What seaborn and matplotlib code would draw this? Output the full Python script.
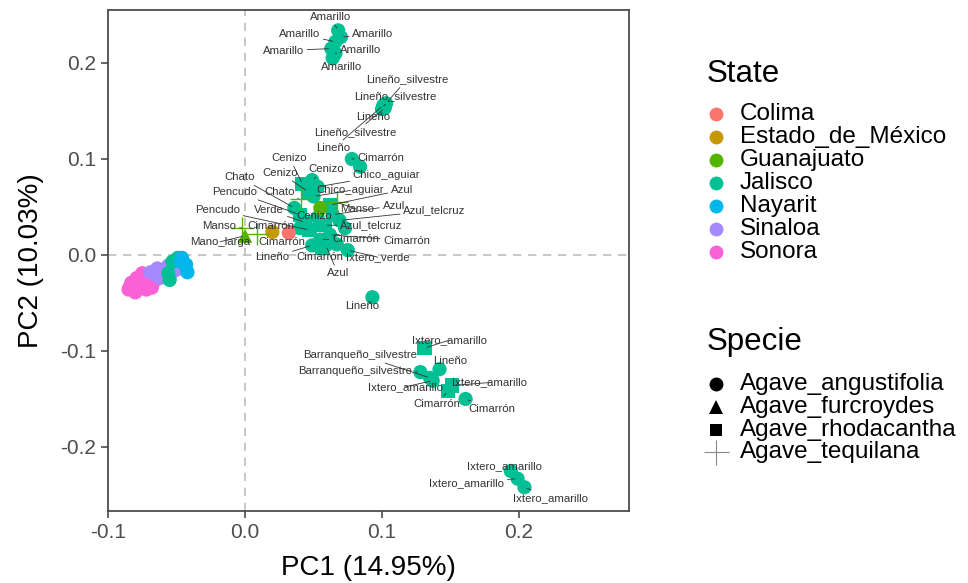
import matplotlib
matplotlib.use("Agg")
import matplotlib.pyplot as plt
from matplotlib.lines import Line2D
import seaborn as sns
import pandas as pd
import numpy as np

# ---------------- data ----------------
states = ["Colima", "Estado_de_México", "Guanajuato", "Jalisco", "Nayarit", "Sinaloa", "Sonora"]
state_colors = ["#F8766D", "#C49A00", "#53B400", "#00C094", "#00B6EB", "#A58AFF", "#FB61D7"]
species = ["Agave_angustifolia", "Agave_furcroydes", "Agave_rhodacantha", "Agave_tequilana"]
xticks = [-0.1, 0.0, 0.1, 0.2]
yticks = [-0.2, -0.1, 0.0, 0.1, 0.2]

pc1 = [
    # Sonora
    -0.085, -0.084, -0.083, -0.080, -0.079, -0.077, -0.075, -0.073, -0.072, -0.069, -0.068, -0.066, -0.064,
    # Sinaloa
    -0.069, -0.064, -0.062, -0.058, -0.056, -0.055, -0.051, -0.047, -0.066,
    # Jalisco (left cluster)
    -0.053, -0.049, -0.055, -0.056, -0.044,
    # Nayarit
    -0.046, -0.043, -0.042, -0.047,
    # Amarillo
    0.068, 0.070, 0.066, 0.063, 0.066, 0.064,
    # Lineño / Lineño_silvestre
    0.103, 0.101, 0.100, 0.102, 0.101,
    # Cimarrón
    0.078, 0.084,
    # central cluster
    0.042, 0.046, 0.049, 0.053, 0.050, 0.062, 0.040, 0.044, 0.036, 0.047, 0.053, 0.058, 0.064, 0.069,
    0.055, 0.062, 0.049, 0.056, 0.075, 0.059, 0.040, 0.067, 0.073,
    # Guanajuato
    0.055, 0.041, 0.067, -0.002, 0.009, 0.000,
    # Estado de México, Colima
    0.020, 0.032,
    # Lineño lower
    0.093,
    # lower cluster
    0.131, 0.128, 0.135, 0.142, 0.137, 0.148, 0.151, 0.161,
    # bottom
    0.194, 0.199, 0.204,
]
pc2 = [
    -0.036, -0.033, -0.029, -0.039, -0.024, -0.033, -0.019, -0.028, -0.036, -0.022, -0.034, -0.027, -0.021,
    -0.018, -0.014, -0.024, -0.016, -0.011, -0.022, -0.016, -0.014, -0.020,
    -0.007, -0.003, -0.026, -0.019, -0.010,
    -0.003, -0.010, -0.018, -0.007,
    0.234, 0.227, 0.222, 0.215, 0.210, 0.205,
    0.158, 0.155, 0.152, 0.153, 0.156,
    0.100, 0.092,
    0.074, 0.066, 0.078, 0.071, 0.061, 0.052, 0.042, 0.034, 0.049, 0.026, 0.039, 0.031, 0.042, 0.036,
    0.016, 0.021, 0.010, 0.007, 0.005, 0.010, 0.028, 0.011, 0.028,
    0.049, 0.058, 0.055, 0.028, 0.022, 0.020,
    0.024, 0.023,
    -0.044,
    -0.097, -0.122, -0.128, -0.119, -0.131, -0.142, -0.136, -0.150,
    -0.225, -0.233, -0.242,
]
state = (["Sonora"] * 13 + ["Sinaloa"] * 9 + ["Jalisco"] * 5 + ["Nayarit"] * 4
         + ["Jalisco"] * 6 + ["Jalisco"] * 5 + ["Jalisco"] * 2 + ["Jalisco"] * 23
         + ["Guanajuato"] * 6 + ["Estado_de_México", "Colima"] + ["Jalisco"]
         + ["Jalisco"] * 8 + ["Jalisco"] * 3)
A, F, R, T = species
specie = ([A] * 13 + [A] * 9 + [A] * 5 + [A] * 4
          + [A] * 6 + [A] * 5 + [A] * 2
          + [R, R, A, A, A, R, R, R, A, R, A, R, A, A, A, A, A, R, A, A, A, A, A]
          + [A, T, T, T, T, F]
          + [A, A] + [A]
          + [R, A, A, A, A, R, R, A]
          + [A, A, A])
label = ([""] * 31
         + ["Amarillo"] * 6
         + ["Lineño_silvestre", "Lineño_silvestre", "Lineño", "Lineño_silvestre", "Lineño"]
         + ["Cimarrón", ""]
         + ["Cenizo", "Cenizo", "Cenizo", "Chico_aguiar", "Chico_aguiar", "Azul", "Pencudo", "Verde", "Chato",
            "Pencudo", "Cenizo", "Azul_telcruz", "Azul", "Azul_telcruz", "Cimarrón", "Cimarrón", "Lineño",
            "Cimarrón", "Ixtero_verde", "Azul", "", "", ""]
         + ["", "Chato", "Manso", "Manso", "", "Mano_larga"]
         + ["Cimarrón", "Cimarrón"]
         + ["Lineño"]
         + ["Ixtero_amarillo", "Barranqueño_silvestre", "Barranqueño_silvestre", "Lineño",
            "Ixtero_amarillo", "Cimarrón", "Ixtero_amarillo", "Cimarrón"]
         + ["Ixtero_amarillo", "Ixtero_amarillo", "Ixtero_amarillo"])

# label offsets (pixels) – layout of the repelled text, not data
label_dx = ([0] * 31
            + [-8, 32, -36, -48, 25, 9]
            + [21, 12, -9, -29, -50]
            + [29, 0]
            + [-13, -28, 14, 69, 37, 72, -65, -36, -55, -92, -3, 47, 61, 95, 35, 77, -40, -2, 30, 12, 0, 0, 0]
            + [0, -22, 20, -23, 0, -25]
            + [-2, -7]
            + [-10]
            + [25, -65, -70, 11, -27, -11, 38, 26]
            + [-6, -51, 26])
label_dy = ([0] * 31
            + [13, 3, 8, -2, 3, -9]
            + [24, 10, -8, -24, -43]
            + [1, 0]
            + [26, 19, 11, 12, 6, 15, 23, 12, 31, 20, 2, 0, 9, 10, 1, -6, -12, -9, -7, -28, 0, 0, 0]
            + [0, 7, -7, 2, 0, -6]
            + [6, -9]
            + [-9]
            + [8, 1, 23, 8, -6, -13, 3, -10]
            + [5, -4, -11])

df = pd.DataFrame({"PC1": pc1, "PC2": pc2, "State": state, "Specie": specie, "label": label})
palette = dict(zip(states, state_colors))

# ---------------- figure ----------------
sns.set_style("white")
plt.rcParams["font.family"] = ["Liberation Sans", "DejaVu Sans"]

W, H = 968, 583
fig = plt.figure(figsize=(W / 100, H / 100), dpi=100)
left_px, right_px, top_px, bot_px = 108, 628.6, 10, 510.7
ax = fig.add_axes([left_px / W, 1 - bot_px / H, (right_px - left_px) / W, (bot_px - top_px) / H])

ax.axvline(0, color="#BEBEBE", lw=1.2, ls=(0, (5, 4)), zorder=0)
ax.axhline(0, color="#BEBEBE", lw=1.2, ls=(0, (5, 4)), zorder=0)

filled = df[df["Specie"] != T]
sns.scatterplot(data=filled, x="PC1", y="PC2", hue="State", style="Specie", palette=palette,
                hue_order=states, style_order=[A, F, R],
                markers={A: "o", F: "^", R: "s"}, s=105, linewidth=0, legend=False, ax=ax)
teq = df[df["Specie"] == T]
sns.scatterplot(data=teq, x="PC1", y="PC2", hue="State", palette=palette, hue_order=states,
                marker="+", s=260, linewidth=1.0, legend=False, ax=ax)

for (x, y, lab, dx, dy) in zip(pc1, pc2, label, label_dx, label_dy):
    if not lab:
        continue
    far = (dx * dx + dy * dy) ** 0.5 > 14
    ax.annotate(lab, xy=(x, y), xytext=(dx, dy), textcoords="offset pixels",
                ha="center", va="center", fontsize=8.2, color="#333333",
                arrowprops=dict(arrowstyle="-", color="#333333", lw=0.6, shrinkA=0, shrinkB=2) if far else None)

ax.set_xlim(-0.1, 0.28)
ax.set_ylim(-0.2664, 0.2552)
ax.set_xticks(xticks)
ax.set_xticklabels([f"{v:.1f}" for v in xticks])
ax.set_yticks(yticks)
ax.set_yticklabels([f"{v:.1f}" for v in yticks])
ax.tick_params(axis="both", direction="out", length=5, width=1.2, color="#4D4D4D",
               labelsize=15, labelcolor="#4D4D4D", bottom=True, left=True)
for sp in ax.spines.values():
    sp.set_color("#4D4D4D")
    sp.set_linewidth(1.3)
ax.set_xlabel("PC1 (14.95%)", fontsize=20, color="black", labelpad=10)
ax.set_ylabel("PC2 (10.03%)", fontsize=20, color="black", labelpad=12)

# ---------------- legends (drawn as figure texts + marker keys) ----------------
def fx(px):
    return px / W


def fy(py):
    return 1 - py / H


key_x, text_x, title_x = 716, 740, 707
fig.text(fx(title_x), fy(74), "State", fontsize=22.5, va="center", ha="left", color="black")
state_rows = [114, 137, 160, 183, 206, 229, 252]
for name, col, yy in zip(states, state_colors, state_rows):
    fig.add_artist(Line2D([fx(key_x)], [fy(yy)], transform=fig.transFigure, marker="o", ls="",
                          markersize=10, markerfacecolor=col, markeredgewidth=0))
    fig.text(fx(text_x), fy(yy), name, fontsize=17.5, va="center", ha="left", color="black")

fig.text(fx(title_x), fy(342), "Specie", fontsize=22.5, va="center", ha="left", color="black")
sp_rows = [384, 407, 430, 452]
sp_markers = [("o", 10, "black", 0), ("^", 10, "black", 0), ("s", 9, "black", 0), ("+", 18, "#888888", 0.8)]
for name, (mk, ms, col, mew), yy in zip(species, sp_markers, sp_rows):
    fig.add_artist(Line2D([fx(key_x)], [fy(yy)], transform=fig.transFigure, marker=mk, ls="",
                          markersize=ms, color=col, markeredgewidth=mew))
    fig.text(fx(text_x), fy(yy), name, fontsize=17.5, va="center", ha="left", color="black")

fig.savefig("out.png", dpi=100)
